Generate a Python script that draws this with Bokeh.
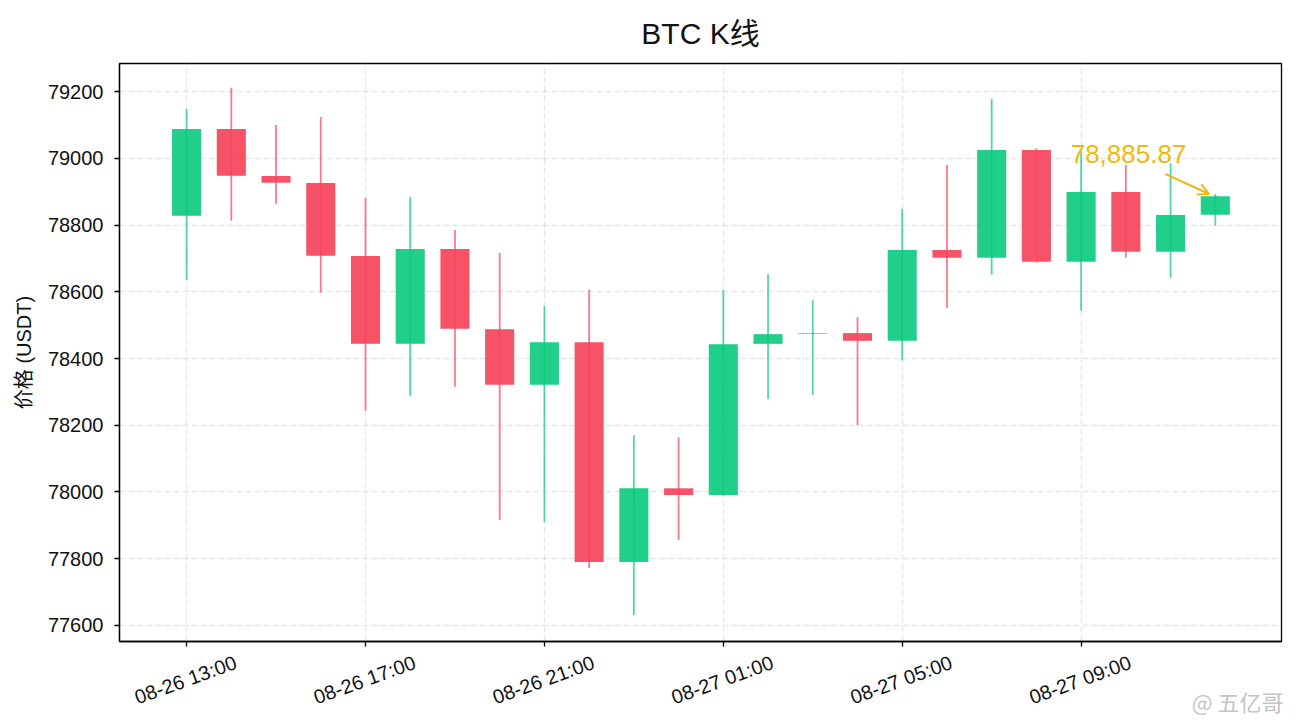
import math
import pandas as pd
from bokeh.plotting import figure
from bokeh.models import (ColumnDataSource, FixedTicker, Range1d, Label, LinearAxis,
                          Arrow, OpenHead, CustomJSTickFormatter, BasicTickFormatter)
from bokeh.embed import file_html
from bokeh.resources import INLINE

times = ["2025-08-26 13:00", "2025-08-26 14:00", "2025-08-26 15:00", "2025-08-26 16:00",
         "2025-08-26 17:00", "2025-08-26 18:00", "2025-08-26 19:00", "2025-08-26 20:00",
         "2025-08-26 21:00", "2025-08-26 22:00", "2025-08-26 23:00", "2025-08-27 00:00",
         "2025-08-27 01:00", "2025-08-27 02:00", "2025-08-27 03:00", "2025-08-27 04:00",
         "2025-08-27 05:00", "2025-08-27 06:00", "2025-08-27 07:00", "2025-08-27 08:00",
         "2025-08-27 09:00", "2025-08-27 10:00", "2025-08-27 11:00", "2025-08-27 12:00"]
opens = [78828, 79088, 78947, 78926, 78707, 78444, 78728, 78488, 78321, 78449, 77790, 78011,
         77991, 78444, 78474, 78476, 78453, 78725, 78702, 79025, 78690, 78899, 78720, 78831]
highs = [79148, 79211, 79100, 79124, 78881, 78884, 78785, 78716, 78557, 78605, 78170, 78164,
         78605, 78653, 78575, 78524, 78848, 78980, 79178, 79030, 79025, 78980, 78985, 78893]
lows = [78635, 78813, 78864, 78597, 78243, 78288, 78315, 77916, 77910, 77772, 77631, 77856,
        77988, 78279, 78291, 78200, 78394, 78552, 78651, 78687, 78543, 78702, 78642, 78798]
closes = [79088, 78948, 78927, 78708, 78444, 78728, 78489, 78321, 78449, 77790, 78011, 77991,
          78443, 78473, 78476, 78453, 78725, 78702, 79025, 78690, 78899, 78720, 78830, 78885.87]

tick_times = ["2025-08-26 13:00", "2025-08-26 17:00", "2025-08-26 21:00",
              "2025-08-27 01:00", "2025-08-27 05:00", "2025-08-27 09:00"]
tick_labels = ["08-26 13:00", "08-26 17:00", "08-26 21:00",
               "08-27 01:00", "08-27 05:00", "08-27 09:00"]
y_ticks = [77600, 77800, 78000, 78200, 78400, 78600, 78800, 79000, 79200]
watermark = "@ 五亿哥"

GREEN = "#0ECB81"
RED = "#F6465D"
GOLD = "#F0B90B"
HOUR = 3600 * 1000.0
FONT = "'Liberation Sans', 'Noto Sans CJK SC', sans-serif"


def to_ms(s):
    return pd.Timestamp(s).value / 1e6


xs = [to_ms(t) for t in times]
t0 = xs[0]
colors = [GREEN if c >= o else RED for o, c in zip(opens, closes)]
src = ColumnDataSource(dict(
    x=xs, open=opens, high=highs, low=lows, close=closes,
    top=[max(o, c) for o, c in zip(opens, closes)],
    bottom=[min(o, c) for o, c in zip(opens, closes)],
    color=colors,
))

p = figure(frame_width=1162, frame_height=578, x_axis_type="datetime",
           x_range=Range1d(t0 - 1.5 * HOUR, t0 + 24.48 * HOUR),
           y_range=Range1d(77552, 79284),
           output_backend="svg", toolbar_location=None,
           min_border_left=119, min_border_right=3, min_border_top=63, min_border_bottom=71,
           title="BTC K线")

p.title.align = "center"
p.title.text_font = FONT
p.title.text_font_size = "30px"
p.title.text_font_style = "normal"
p.title.text_color = "#111111"
p.title.standoff = 28

p.vbar(x="x", width=0.65 * HOUR, top="top", bottom="bottom", source=src,
       fill_color="color", fill_alpha=0.93, line_color=None)
p.segment(x0="x", y0="low", x1="x", y1="high", source=src,
          line_color="color", line_alpha=0.72, line_width=1.8)

# x axis: tick marks (as minor ticks) at the real times, rotated labels centred under them
true_ticks = [to_ms(t) for t in tick_times]
label_shift = 1.10 * HOUR
shifted = [t + label_shift for t in true_ticks]
xax = p.xaxis[0]
xax.ticker = FixedTicker(ticks=shifted, minor_ticks=true_ticks)
xax.formatter = CustomJSTickFormatter(args=dict(labs=tick_labels),
                                      code="return labs[index];")
xax.major_tick_line_color = None
xax.major_tick_out = 5
xax.major_tick_in = 0
xax.minor_tick_line_color = "#000000"
xax.minor_tick_line_width = 1.3
xax.minor_tick_out = 5
xax.minor_tick_in = 0
xax.major_label_orientation = math.radians(20)
xax.major_label_standoff = 15
xax.major_label_text_font = FONT
xax.major_label_text_font_size = "20px"
xax.major_label_text_color = "#111111"
p.xgrid.ticker = FixedTicker(ticks=true_ticks)

# y axis
yax = p.yaxis[0]
yax.ticker = FixedTicker(ticks=y_ticks)
yax.formatter = BasicTickFormatter(use_scientific=False)
yax.axis_label = "价格 (USDT)"
yax.axis_label_text_font = FONT
yax.axis_label_text_font_size = "20px"
yax.axis_label_text_font_style = "normal"
yax.axis_label_text_color = "#111111"
yax.axis_label_standoff = 10
yax.major_label_text_font = FONT
yax.major_label_text_font_size = "20px"
yax.major_label_text_color = "#111111"
yax.major_label_standoff = 11
yax.minor_tick_line_color = None
yax.major_tick_in = 0
yax.major_tick_out = 5
yax.major_tick_line_color = "#000000"
yax.major_tick_line_width = 1.3

p.axis.axis_line_color = "#000000"
p.axis.axis_line_width = 1.3
p.outline_line_color = "#000000"
p.outline_line_alpha = 1.0
p.outline_line_width = 1.3

p.grid.grid_line_color = "#b0b0b0"
p.grid.grid_line_alpha = 0.3
p.grid.grid_line_dash = "6 3"
p.grid.grid_line_width = 1.3

# last price annotation
p.add_layout(Label(x=t0 + 21.06 * HOUR, y=79013, text=f"{closes[-1]:,.2f}",
                   text_align="center", text_baseline="alphabetic",
                   text_font=FONT, text_font_size="26px", text_color=GOLD))
p.add_layout(Arrow(end=OpenHead(size=11, line_color=GOLD, line_width=2),
                   x_start=t0 + 21.88 * HOUR, y_start=78953,
                   x_end=t0 + 22.86 * HOUR, y_end=78893,
                   line_color=GOLD, line_width=2))

# watermark as a second, tick-less axis below
wm_axis = LinearAxis(ticker=FixedTicker(ticks=[t0 + 23.50 * HOUR]),
                     formatter=CustomJSTickFormatter(args=dict(txt=watermark), code="return txt;"),
                     axis_line_color=None, major_tick_line_color=None, minor_tick_line_color=None,
                     major_tick_out=0, major_tick_in=0, major_label_standoff=-37,
                     major_label_text_font="'Noto Sans CJK SC'", major_label_text_font_size="22px",
                     major_label_text_color="#c4c4c4")
p.add_layout(wm_axis, "below")

open("out.html", "w").write(file_html(p, INLINE))
